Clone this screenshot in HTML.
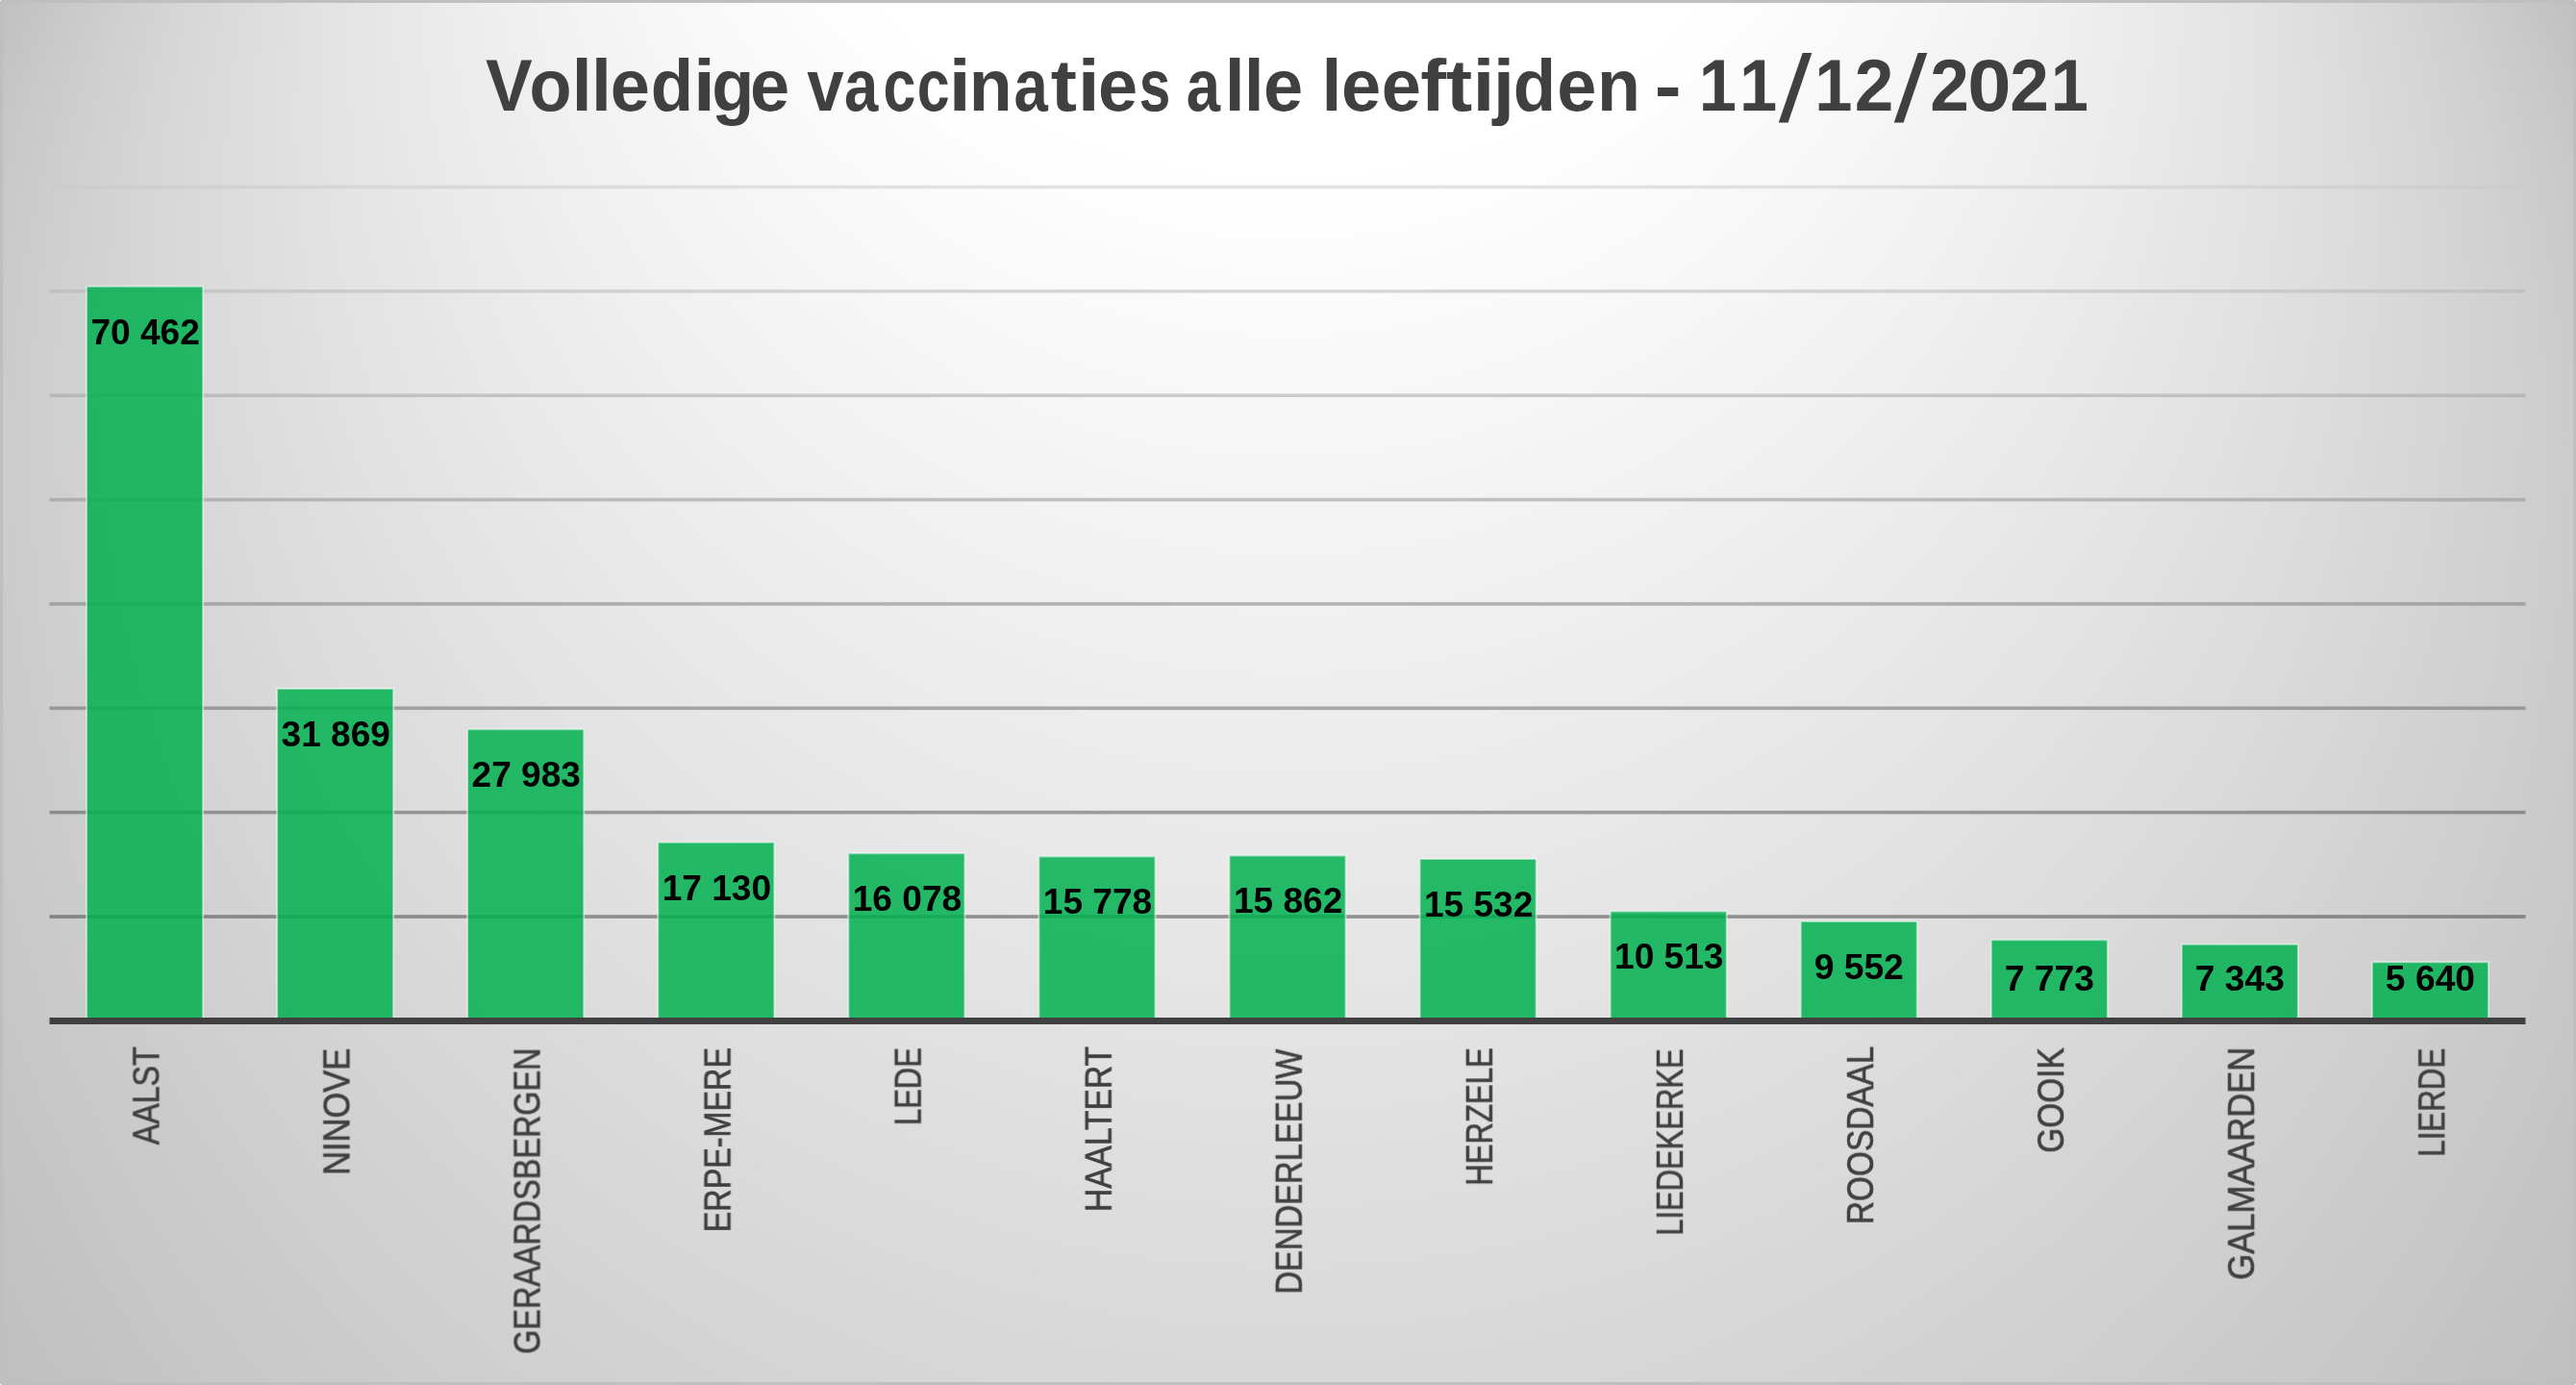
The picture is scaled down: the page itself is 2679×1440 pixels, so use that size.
<!DOCTYPE html>
<html lang="nl"><head><meta charset="utf-8">
<title>Volledige vaccinaties alle leeftijden - 11/12/2021</title>
<style>
html,body{margin:0;padding:0;background:#fff;}
body{width:2679px;height:1440px;overflow:hidden;}
svg{display:block;}
text{font-family:"Liberation Sans",sans-serif;}
.dl{font-weight:bold;fill:#000;font-size:37.4px;text-anchor:middle;}
.cat{fill:#404040;stroke:#404040;stroke-width:0.7px;font-size:38.3px;text-anchor:end;}
.ttl{font-weight:bold;fill:#404040;font-size:76.5px;}
.sl{font-weight:normal;font-size:98.91px;}
.bar{fill:rgba(0,176,80,0.85);stroke:rgba(255,255,255,0.5);stroke-width:2;stroke-linejoin:round;}
</style></head><body>
<svg width="2679" height="1440" viewBox="0 0 2679 1440">
<title>Volledige vaccinaties alle leeftijden - 11/12/2021</title>
<defs><clipPath id="ca"><rect x="0" y="0" width="2679" height="1440" rx="3" ry="3"/></clipPath><mask id="gm" maskUnits="userSpaceOnUse" x="0" y="0" width="2679" height="1440"><rect x="0" y="0" width="2679" height="1440" fill="#fff"/></mask></defs>
<g clip-path="url(#ca)">
<rect x="0" y="0" width="2679" height="1440" fill="#bfbfbf"/>
<circle cx="1339.5" cy="711.08" r="1513.5" fill="#c0c0c0"/>
<circle cx="1339.5" cy="693.24" r="1499" fill="#c1c1c1"/>
<circle cx="1339.5" cy="675.39" r="1484.51" fill="#c2c2c2"/>
<circle cx="1339.5" cy="657.55" r="1470.01" fill="#c3c3c3"/>
<circle cx="1339.5" cy="639.71" r="1455.52" fill="#c4c4c4"/>
<circle cx="1339.5" cy="621.87" r="1441.02" fill="#c5c5c5"/>
<circle cx="1339.5" cy="604.02" r="1426.53" fill="#c6c6c6"/>
<circle cx="1339.5" cy="586.18" r="1412.03" fill="#c7c7c7"/>
<circle cx="1339.5" cy="568.34" r="1397.54" fill="#c8c8c8"/>
<circle cx="1339.5" cy="550.5" r="1383.04" fill="#c9c9c9"/>
<circle cx="1339.5" cy="532.65" r="1368.55" fill="#cacaca"/>
<circle cx="1339.5" cy="514.81" r="1354.06" fill="#cbcbcb"/>
<circle cx="1339.5" cy="496.97" r="1339.56" fill="#cccccc"/>
<circle cx="1339.5" cy="479.13" r="1325.07" fill="#cdcdcd"/>
<circle cx="1339.5" cy="461.28" r="1310.57" fill="#cecece"/>
<circle cx="1339.5" cy="443.44" r="1296.08" fill="#cfcfcf"/>
<circle cx="1339.5" cy="425.6" r="1281.58" fill="#d0d0d0"/>
<circle cx="1339.5" cy="407.76" r="1267.09" fill="#d1d1d1"/>
<circle cx="1339.5" cy="389.91" r="1252.59" fill="#d2d2d2"/>
<circle cx="1339.5" cy="372.07" r="1238.1" fill="#d3d3d3"/>
<circle cx="1339.5" cy="354.23" r="1223.6" fill="#d4d4d4"/>
<circle cx="1339.5" cy="336.39" r="1209.11" fill="#d5d5d5"/>
<circle cx="1339.5" cy="318.54" r="1194.62" fill="#d6d6d6"/>
<circle cx="1339.5" cy="300.7" r="1180.12" fill="#d7d7d7"/>
<circle cx="1339.5" cy="282.86" r="1165.63" fill="#d8d8d8"/>
<circle cx="1339.5" cy="265.02" r="1151.13" fill="#d9d9d9"/>
<circle cx="1339.5" cy="247.17" r="1136.64" fill="#dadada"/>
<circle cx="1339.5" cy="229.33" r="1122.14" fill="#dbdbdb"/>
<circle cx="1339.5" cy="211.49" r="1107.65" fill="#dcdcdc"/>
<circle cx="1339.5" cy="193.65" r="1093.15" fill="#dddddd"/>
<circle cx="1339.5" cy="175.8" r="1078.66" fill="#dedede"/>
<circle cx="1339.5" cy="157.96" r="1064.16" fill="#dfdfdf"/>
<circle cx="1339.5" cy="140.12" r="1049.67" fill="#e0e0e0"/>
<circle cx="1339.5" cy="122.28" r="1035.17" fill="#e1e1e1"/>
<circle cx="1339.5" cy="104.43" r="1020.68" fill="#e2e2e2"/>
<circle cx="1339.5" cy="86.59" r="1006.19" fill="#e3e3e3"/>
<circle cx="1339.5" cy="68.75" r="991.69" fill="#e4e4e4"/>
<circle cx="1339.5" cy="50.91" r="977.2" fill="#e5e5e5"/>
<circle cx="1339.5" cy="33.06" r="962.7" fill="#e6e6e6"/>
<circle cx="1339.5" cy="15.22" r="948.21" fill="#e7e7e7"/>
<circle cx="1339.5" cy="-2.62" r="933.71" fill="#e8e8e8"/>
<circle cx="1339.5" cy="-20.46" r="919.22" fill="#e9e9e9"/>
<circle cx="1339.5" cy="-38.31" r="904.72" fill="#eaeaea"/>
<circle cx="1339.5" cy="-56.15" r="890.23" fill="#ebebeb"/>
<circle cx="1339.5" cy="-73.99" r="875.73" fill="#ececec"/>
<circle cx="1339.5" cy="-91.83" r="861.24" fill="#ededed"/>
<circle cx="1339.5" cy="-109.68" r="846.75" fill="#eeeeee"/>
<circle cx="1339.5" cy="-127.52" r="832.25" fill="#efefef"/>
<circle cx="1339.5" cy="-145.36" r="817.76" fill="#f0f0f0"/>
<circle cx="1339.5" cy="-163.2" r="803.26" fill="#f1f1f1"/>
<circle cx="1339.5" cy="-181.05" r="788.77" fill="#f2f2f2"/>
<circle cx="1339.5" cy="-198.89" r="774.27" fill="#f3f3f3"/>
<circle cx="1339.5" cy="-216.73" r="759.78" fill="#f4f4f4"/>
<circle cx="1339.5" cy="-234.57" r="745.28" fill="#f5f5f5"/>
<circle cx="1339.5" cy="-252.42" r="730.79" fill="#f6f6f6"/>
<circle cx="1339.5" cy="-270.26" r="716.29" fill="#f7f7f7"/>
<circle cx="1339.5" cy="-288.1" r="701.8" fill="#f8f8f8"/>
<circle cx="1339.5" cy="-305.94" r="687.3" fill="#f9f9f9"/>
<circle cx="1339.5" cy="-323.79" r="672.81" fill="#fafafa"/>
<circle cx="1339.5" cy="-341.63" r="658.32" fill="#fbfbfb"/>
<circle cx="1339.5" cy="-359.47" r="643.82" fill="#fcfcfc"/>
<circle cx="1339.5" cy="-377.31" r="629.33" fill="#fdfdfd"/>
<circle cx="1339.5" cy="-395.16" r="614.83" fill="#fefefe"/>
<circle cx="1339.5" cy="-413" r="600.34" fill="#ffffff"/>
</g>
<rect x="1.5" y="1.5" width="2676" height="1437" rx="2" ry="2" fill="none" stroke="#bfbfbf" stroke-width="3.2"/>
<g>
<rect x="51.5" y="192.64" width="2575" height="3.6" fill="rgba(200,200,200,0.5)"/>
<rect x="51.5" y="301.01" width="2575" height="3.6" fill="rgba(180,180,180,0.5)"/>
<rect x="51.5" y="409.38" width="2575" height="3.6" fill="rgba(159,159,159,0.5)"/>
<rect x="51.5" y="517.75" width="2575" height="3.6" fill="rgba(139,139,139,0.5)"/>
<rect x="51.5" y="626.12" width="2575" height="3.6" fill="rgba(118,118,118,0.5)"/>
<rect x="51.5" y="734.49" width="2575" height="3.6" fill="rgba(98,98,98,0.5)"/>
<rect x="51.5" y="842.86" width="2575" height="3.6" fill="rgba(78,78,78,0.5)"/>
<rect x="51.5" y="951.23" width="2575" height="3.6" fill="rgba(57,57,57,0.5)"/>
</g>
<g>
<rect class="bar" x="89.99" y="297.8" width="121.1" height="763.6"/>
<rect class="bar" x="288.07" y="716.04" width="121.1" height="345.36"/>
<rect class="bar" x="486.14" y="758.15" width="121.1" height="303.25"/>
<rect class="bar" x="684.22" y="875.76" width="121.1" height="185.64"/>
<rect class="bar" x="882.3" y="887.16" width="121.1" height="174.24"/>
<rect class="bar" x="1080.37" y="890.41" width="121.1" height="170.99"/>
<rect class="bar" x="1278.45" y="889.5" width="121.1" height="171.9"/>
<rect class="bar" x="1476.53" y="893.08" width="121.1" height="168.32"/>
<rect class="bar" x="1674.6" y="947.47" width="121.1" height="113.93"/>
<rect class="bar" x="1872.68" y="957.88" width="121.1" height="103.52"/>
<rect class="bar" x="2070.76" y="977.16" width="121.1" height="84.24"/>
<rect class="bar" x="2268.83" y="981.82" width="121.1" height="79.58"/>
<rect class="bar" x="2466.91" y="1000.28" width="121.1" height="61.12"/>
</g>
<rect x="51.5" y="1058" width="2575" height="7" fill="#404040"/>
<g mask="url(#gm)">
<text class="dl" x="151.14" y="357.6" textLength="113.4" lengthAdjust="spacingAndGlyphs">70 462</text>
<text class="dl" x="349.22" y="775.84" textLength="113.4" lengthAdjust="spacingAndGlyphs">31 869</text>
<text class="dl" x="547.29" y="817.95" textLength="113.4" lengthAdjust="spacingAndGlyphs">27 983</text>
<text class="dl" x="745.37" y="935.56" textLength="113.4" lengthAdjust="spacingAndGlyphs">17 130</text>
<text class="dl" x="943.45" y="946.96" textLength="113.4" lengthAdjust="spacingAndGlyphs">16 078</text>
<text class="dl" x="1141.52" y="950.21" textLength="113.4" lengthAdjust="spacingAndGlyphs">15 778</text>
<text class="dl" x="1339.6" y="949.3" textLength="113.4" lengthAdjust="spacingAndGlyphs">15 862</text>
<text class="dl" x="1537.68" y="952.88" textLength="113.4" lengthAdjust="spacingAndGlyphs">15 532</text>
<text class="dl" x="1735.75" y="1007.27" textLength="113.4" lengthAdjust="spacingAndGlyphs">10 513</text>
<text class="dl" x="1933.23" y="1017.68" textLength="93.2" lengthAdjust="spacingAndGlyphs">9 552</text>
<text class="dl" x="2131.31" y="1029.7" textLength="93.2" lengthAdjust="spacingAndGlyphs">7 773</text>
<text class="dl" x="2329.38" y="1029.7" textLength="93.2" lengthAdjust="spacingAndGlyphs">7 343</text>
<text class="dl" x="2527.46" y="1029.7" textLength="93.2" lengthAdjust="spacingAndGlyphs">5 640</text>
</g>
<g mask="url(#gm)">
<text class="cat" transform="translate(165.34 1088.25) rotate(-90)" textLength="102.12" lengthAdjust="spacingAndGlyphs">AALST</text>
<text class="cat" transform="translate(363.42 1089.75) rotate(-90)" textLength="132.11" lengthAdjust="spacingAndGlyphs">NINOVE</text>
<text class="cat" transform="translate(561.49 1089.5) rotate(-90)" textLength="318.36" lengthAdjust="spacingAndGlyphs">GERAARDSBERGEN</text>
<text class="cat" transform="translate(759.57 1089) rotate(-90)" textLength="192.22" lengthAdjust="spacingAndGlyphs">ERPE-MERE</text>
<text class="cat" transform="translate(957.65 1089.25) rotate(-90)" textLength="80.81" lengthAdjust="spacingAndGlyphs">LEDE</text>
<text class="cat" transform="translate(1155.72 1088) rotate(-90)" textLength="171.94" lengthAdjust="spacingAndGlyphs">HAALTERT</text>
<text class="cat" transform="translate(1353.8 1090.75) rotate(-90)" textLength="254.86" lengthAdjust="spacingAndGlyphs">DENDERLEEUW</text>
<text class="cat" transform="translate(1551.88 1089.25) rotate(-90)" textLength="143.38" lengthAdjust="spacingAndGlyphs">HERZELE</text>
<text class="cat" transform="translate(1749.95 1090.5) rotate(-90)" textLength="194.18" lengthAdjust="spacingAndGlyphs">LIEDEKERKE</text>
<text class="cat" transform="translate(1948.03 1087.75) rotate(-90)" textLength="185.3" lengthAdjust="spacingAndGlyphs">ROOSDAAL</text>
<text class="cat" transform="translate(2146.11 1089.25) rotate(-90)" textLength="109.46" lengthAdjust="spacingAndGlyphs">GOOIK</text>
<text class="cat" transform="translate(2344.18 1088.75) rotate(-90)" textLength="241.94" lengthAdjust="spacingAndGlyphs">GALMAARDEN</text>
<text class="cat" transform="translate(2542.26 1089.75) rotate(-90)" textLength="113.01" lengthAdjust="spacingAndGlyphs">LIERDE</text>
</g>
<g mask="url(#gm)"><text class="ttl" y="115.3"><tspan x="505.12" textLength="48.68" lengthAdjust="spacingAndGlyphs">V</tspan><tspan x="550.47" textLength="44.04" lengthAdjust="spacingAndGlyphs">o</tspan><tspan x="594.83" textLength="20.9" lengthAdjust="spacingAndGlyphs">l</tspan><tspan x="614.93" textLength="20.9" lengthAdjust="spacingAndGlyphs">l</tspan><tspan x="634.74" textLength="41.08" lengthAdjust="spacingAndGlyphs">e</tspan><tspan x="676.74" textLength="44.37" lengthAdjust="spacingAndGlyphs">d</tspan><tspan x="720.93" textLength="22.94" lengthAdjust="spacingAndGlyphs">i</tspan><tspan x="740.14" textLength="43.99" lengthAdjust="spacingAndGlyphs">g</tspan><tspan x="780.09" textLength="41.08" lengthAdjust="spacingAndGlyphs">e</tspan> <tspan x="839.37" textLength="38.39" lengthAdjust="spacingAndGlyphs">v</tspan><tspan x="877.9" textLength="35.26" lengthAdjust="spacingAndGlyphs">a</tspan><tspan x="918.41" textLength="33.92" lengthAdjust="spacingAndGlyphs">c</tspan><tspan x="953.71" textLength="33.92" lengthAdjust="spacingAndGlyphs">c</tspan><tspan x="986.83" textLength="22.94" lengthAdjust="spacingAndGlyphs">i</tspan><tspan x="1007.72" textLength="44.9" lengthAdjust="spacingAndGlyphs">n</tspan><tspan x="1054.5" textLength="35.26" lengthAdjust="spacingAndGlyphs">a</tspan><tspan x="1092.86" textLength="27.17" lengthAdjust="spacingAndGlyphs">t</tspan><tspan x="1120.68" textLength="22.94" lengthAdjust="spacingAndGlyphs">i</tspan><tspan x="1141.89" textLength="41.08" lengthAdjust="spacingAndGlyphs">e</tspan><tspan x="1184.7" textLength="32.53" lengthAdjust="spacingAndGlyphs">s</tspan> <tspan x="1233.8" textLength="35.26" lengthAdjust="spacingAndGlyphs">a</tspan><tspan x="1273.78" textLength="20.9" lengthAdjust="spacingAndGlyphs">l</tspan><tspan x="1293.68" textLength="20.9" lengthAdjust="spacingAndGlyphs">l</tspan><tspan x="1313.99" textLength="41.08" lengthAdjust="spacingAndGlyphs">e</tspan> <tspan x="1374.58" textLength="20.9" lengthAdjust="spacingAndGlyphs">l</tspan><tspan x="1394.89" textLength="41.08" lengthAdjust="spacingAndGlyphs">e</tspan><tspan x="1436.84" textLength="41.08" lengthAdjust="spacingAndGlyphs">e</tspan><tspan x="1477.38" textLength="26.9" lengthAdjust="spacingAndGlyphs">f</tspan><tspan x="1503.91" textLength="27.17" lengthAdjust="spacingAndGlyphs">t</tspan><tspan x="1531.43" textLength="22.94" lengthAdjust="spacingAndGlyphs">i</tspan><tspan x="1552.71" textLength="22.31" lengthAdjust="spacingAndGlyphs">j</tspan><tspan x="1573.79" textLength="44.37" lengthAdjust="spacingAndGlyphs">d</tspan><tspan x="1619.19" textLength="41.08" lengthAdjust="spacingAndGlyphs">e</tspan><tspan x="1661.07" textLength="44.9" lengthAdjust="spacingAndGlyphs">n</tspan> <tspan x="1720.72" y="114.93" textLength="27.84" lengthAdjust="spacingAndGlyphs">-</tspan> <tspan x="1766.76" y="115.3" textLength="39.18" lengthAdjust="spacingAndGlyphs">1</tspan><tspan x="1808.91" textLength="39.18" lengthAdjust="spacingAndGlyphs">1</tspan><tspan class="sl" x="1849.82" y="126.3" textLength="34.53" lengthAdjust="spacingAndGlyphs">/</tspan><tspan x="1887.16" y="115.3" textLength="39.18" lengthAdjust="spacingAndGlyphs">1</tspan><tspan x="1928.79" textLength="40.6" lengthAdjust="spacingAndGlyphs">2</tspan><tspan class="sl" x="1969.77" y="126.3" textLength="34.53" lengthAdjust="spacingAndGlyphs">/</tspan><tspan x="2007.19" y="115.3" textLength="40.6" lengthAdjust="spacingAndGlyphs">2</tspan><tspan x="2046.21" textLength="45.23" lengthAdjust="spacingAndGlyphs">0</tspan><tspan x="2090.34" textLength="40.6" lengthAdjust="spacingAndGlyphs">2</tspan><tspan x="2132.66" textLength="39.18" lengthAdjust="spacingAndGlyphs">1</tspan></text></g>
</svg>
</body></html>
